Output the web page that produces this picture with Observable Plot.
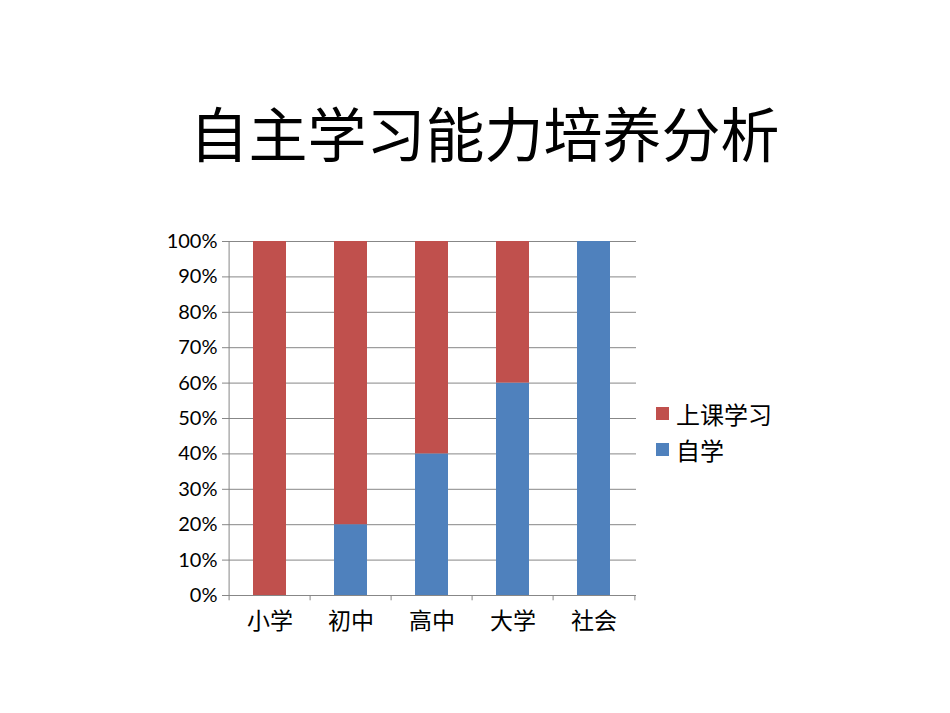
<!DOCTYPE html>
<html><head><meta charset="utf-8">
<script src="https://cdn.jsdelivr.net/npm/d3@7"></script>
<script src="https://cdn.jsdelivr.net/npm/@observablehq/plot@0.6"></script>
<style>
body{margin:0;background:#fff;}
#wrap{position:relative;width:950px;height:713px;overflow:hidden;font-family:Lato,"Noto Sans CJK SC",sans-serif;}
#title{position:absolute;left:0;width:969px;top:98px;text-align:center;font-size:59px;line-height:68px;font-family:"Noto Sans CJK SC",sans-serif;color:#000;}
#chart{position:absolute;left:0;top:0;}
#legend{position:absolute;left:656px;top:395px;font-size:24px;font-family:"Noto Sans CJK SC",sans-serif;color:#000;}
.li{display:flex;align-items:center;height:36px;}
.sw{width:13px;height:13px;margin-right:7px;}
</style></head><body>
<div id="wrap"><div id="chart"></div><div id="title">自主学习能力培养分析</div><div id="legend"></div></div>
<script>
const categories = ["小学","初中","高中","大学","社会"];
const seriesNames = ["上课学习","自学"];
const classStudy = [100,80,60,40,0];
const selfStudy = [0,20,40,60,100];
const yTicks = [0,10,20,30,40,50,60,70,80,90,100];
const colors = ["#C0504D","#4F81BD"];

const data = [];
categories.forEach((c,i)=>{
  data.push({cat:c, series:"自学", value:selfStudy[i]});
  data.push({cat:c, series:"上课学习", value:classStudy[i]});
});
const step = (636-227)/categories.length;

const plot = Plot.plot({
  width:950, height:713,
  marginLeft:227, marginRight:314, marginTop:241, marginBottom:118,
  style:{fontFamily:'Lato,"Noto Sans CJK SC",sans-serif', background:"transparent"},
  x:{domain:categories, padding:0, label:null},
  y:{domain:[0,100], label:null},
  color:{domain:seriesNames, range:colors},
  marks:[
    Plot.ruleY(yTicks.filter(d=>d>0), {stroke:"#878787", strokeWidth:1, strokeOpacity:1}),
    Plot.barY(data, {x:"cat", y:"value", fill:"series", insetLeft:24, insetRight:24, order:["自学","上课学习"]}),
    Plot.ruleX([0], {x:()=>categories[0], dx:-step/2, y1:0, y2:100, stroke:"#878787"}),
    Plot.ruleY([0], {stroke:"#878787"}),
    Plot.axisY({ticks:yTicks, tickFormat:d=>d+"%", tickSize:5, tickPadding:5, fontSize:20, stroke:"#878787", color:"#000", strokeOpacity:1}),
    Plot.ruleX(categories, {x:d=>d, dx:-step/2, y1:0, y2:-1.5, stroke:"#878787"}),
    Plot.ruleX([categories[categories.length-1]], {x:d=>d, dx:step/2, y1:0, y2:-1.5, stroke:"#878787"}),
    Plot.axisX({tickSize:0, tickPadding:17, fontSize:23, fill:"#000"})
  ]
});
plot.querySelectorAll("text").forEach(t=>t.setAttribute("fill","#000"));
document.getElementById("chart").appendChild(plot);

const lg = document.getElementById("legend");
seriesNames.forEach((s,i)=>{
  const d = document.createElement("div"); d.className="li";
  d.innerHTML = `<span class="sw" style="background:${colors[i]}"></span><span>${s}</span>`;
  lg.appendChild(d);
});
</script></body></html>
